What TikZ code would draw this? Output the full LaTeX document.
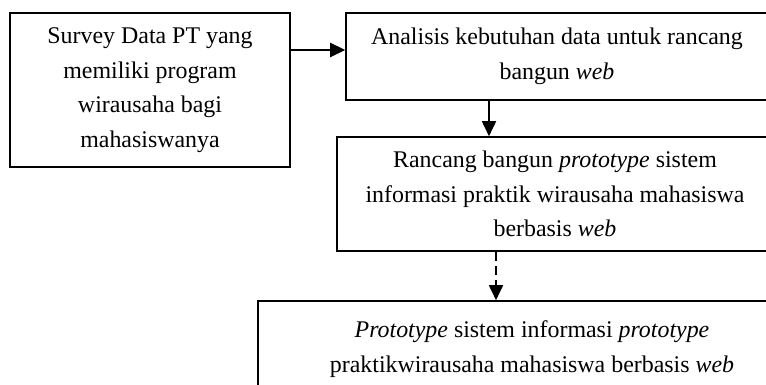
\documentclass[tikz,border=0pt]{standalone}
\usepackage{fontspec}
\setmainfont{Liberation Serif}
\usetikzlibrary{arrows.meta}

\tikzset{
  box/.style={draw,line width=1.6pt,align=center,inner sep=0pt,
    font=\fontsize{23.9}{34.5}\selectfont},
  arr/.style={line width=1.8pt,-{Triangle[width=14pt,length=15pt]}}
}

\begin{document}
\begin{tikzpicture}[x=1pt,y=-1pt]
\useasboundingbox (0,0) rectangle (766,385);
\clip (0,0) rectangle (766,385);
\node[box,minimum width=280pt,minimum height=154pt] (survey) at (150,90)
  {Survey Data PT yang\\ memiliki program\\ wirausaha bagi\\ mahasiswanya};
\node[box,minimum width=422pt,minimum height=87pt] (analisis) at (557,56.5)
  {Analisis kebutuhan data untuk rancang\\ bangun \textit{web}};
\node[box,minimum width=436pt,minimum height=114pt] (rancang) at (555,194)
  {Rancang bangun \textit{prototype} sistem\\ informasi praktik wirausaha mahasiswa\\ berbasis \textit{web}};
\node[box,minimum width=548pt,minimum height=96pt] (hasil) at (532,349)
  {\textit{Prototype} sistem informasi \textit{prototype}\\ praktikwirausaha mahasiswa berbasis \textit{web}};
\coordinate (c1) at (489,0);
\coordinate (c2) at (496,0);
\draw[arr,line width=2.6pt] ([yshift=6.5pt]survey.east |- analisis.west) -- ([yshift=6.5pt]analisis.west);
\draw[arr] (analisis.south -| c1) -- (rancang.north -| c1);
\draw[arr,dash pattern=on 9pt off 5pt] (rancang.south -| c2) -- (hasil.north -| c2);
\end{tikzpicture}
\end{document}
